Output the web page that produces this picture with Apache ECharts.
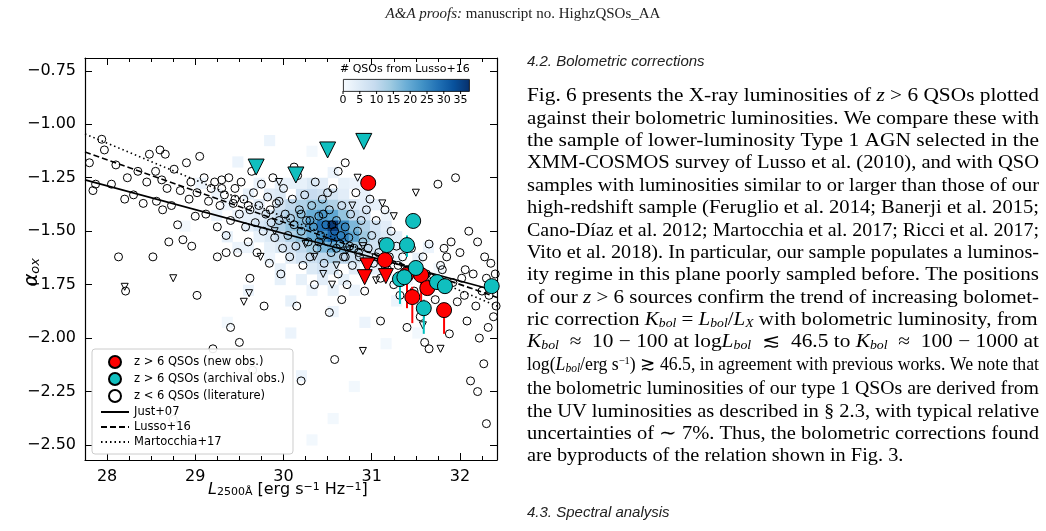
<!DOCTYPE html><html><head><meta charset="utf-8">
<script src="https://cdn.jsdelivr.net/npm/echarts@6/dist/echarts.min.js"></script>
<style>body{margin:0;background:#fff}#c{width:1046px;height:531px}</style></head><body><div id="c"></div>
<script>
const xTicks=[28,29,30,31,32];
const yTicks=[-0.75,-1.00,-1.25,-1.50,-1.75,-2.00,-2.25,-2.50];
const colorbarTicks=[0,5,10,15,20,25,30,35];
const heatCells=[
[29.9,-1.40,7],[30.02,-1.40,10],[30.14,-1.40,12],[30.26,-1.40,14],[30.38,-1.40,15],[30.5,-1.40,12],[30.62,-1.40,8],[30.74,-1.40,5],
[29.66,-1.45,4],[29.78,-1.45,6],[29.9,-1.45,10],[30.02,-1.45,12],[30.14,-1.45,15],[30.26,-1.45,19],[30.38,-1.45,22],[30.5,-1.45,20],[30.62,-1.45,15],[30.74,-1.45,10],[30.86,-1.45,7],
[29.54,-1.50,3],[29.66,-1.50,6],[29.78,-1.50,8],[29.9,-1.50,12],[30.02,-1.50,15],[30.14,-1.50,17],[30.26,-1.50,22],[30.38,-1.50,28],[30.5,-1.50,36],[30.62,-1.50,25],[30.74,-1.50,17],[30.86,-1.50,12],[30.98,-1.50,7],[31.1,-1.50,4],
[29.78,-1.55,5],[29.9,-1.55,8],[30.02,-1.55,12],[30.14,-1.55,15],[30.26,-1.55,19],[30.38,-1.55,24],[30.5,-1.55,30],[30.62,-1.55,26],[30.74,-1.55,20],[30.86,-1.55,14],[30.98,-1.55,8],[31.1,-1.55,5],
[29.9,-1.60,5],[30.02,-1.60,7],[30.14,-1.60,10],[30.26,-1.60,13],[30.38,-1.60,17],[30.5,-1.60,19],[30.62,-1.60,17],[30.74,-1.60,13],[30.86,-1.60,10],[30.98,-1.60,7],[31.1,-1.60,4],
[30.02,-1.65,4],[30.14,-1.65,7],[30.26,-1.65,8],[30.38,-1.65,10],[30.5,-1.65,12],[30.62,-1.65,10],[30.74,-1.65,8],[30.86,-1.65,6],
[29.78,-1.35,4],[29.9,-1.35,5],[30.14,-1.35,7],[30.26,-1.35,9],[30.38,-1.35,8],[30.5,-1.35,6],[30.62,-1.35,4],
[29.9,-1.30,3],[30.26,-1.30,5],[30.38,-1.30,4],[30.5,-1.25,2],
[30.26,-1.70,5],[30.38,-1.70,7],[30.5,-1.70,5],[30.74,-1.70,4],[30.38,-1.75,4],[30.62,-1.75,3],[31.22,-1.75,2],
[29.3,-1.55,3],[29.42,-1.60,2],[29.18,-1.45,2],[31.22,-1.55,4],[31.34,-1.60,3],[31.46,-1.65,3],[31.58,-1.60,2],[29.54,-1.80,2],
[30.02,-1.85,3],[30.5,-1.90,2],[30.86,-1.95,2],[31.22,-1.85,2],[29.3,-1.95,1],[29.66,-2.10,1],[30.14,-2.20,2],[30.74,-2.25,1],
[31.1,-2.05,1],[29.0,-1.30,2],[29.42,-1.20,2],[29.78,-1.10,2],[30.26,-1.15,1],[29.9,-1.75,3],[30.02,-2.00,2],[31.34,-1.75,2],
[31.7,-1.70,1],[28.82,-1.50,1],[30.5,-2.40,1],[30.26,-2.50,1],[31.46,-2.00,1],[29.54,-1.35,3],[29.66,-1.40,4],[30.98,-1.40,3],[31.1,-1.45,2],[29.42,-1.45,2],
[29.18,-1.35,2],[29.3,-1.40,2],[29.54,-1.45,3],[29.66,-1.55,3],[29.54,-1.60,2],[29.78,-1.60,3],[29.78,-1.65,2],[29.9,-1.70,3],[30.14,-1.75,3],[30.26,-1.80,2],[30.5,-1.80,3],[30.74,-1.80,2],[30.98,-1.65,4],[30.98,-1.70,3],[31.1,-1.65,3],[31.22,-1.60,3],[31.22,-1.65,2],[30.86,-1.40,4],[30.86,-1.35,3],[30.74,-1.30,2],[30.62,-1.30,3],[30.02,-1.30,3],[30.14,-1.30,3],[29.66,-1.30,2]];
const lowzCircles=[
[27.8,-1.18],[27.84,-1.31],[27.87,-1.28],[27.94,-1.07],[27.97,-1.12],[28.05,-1.28],[28.1,-1.19],[28.13,-1.62],[28.2,-1.35],[28.23,-1.25],[28.3,-1.33],[28.41,-1.37],[28.48,-1.14],[28.52,-1.62],[28.55,-1.22],[28.56,-1.36],[28.6,-1.12],[28.62,-1.26],[28.63,-1.40],[28.66,-1.14],[28.68,-1.30],[28.7,-1.55],[28.73,-1.38],[28.76,-1.21],[28.8,-1.47],[28.83,-1.31],[28.86,-1.54],[28.9,-1.18],[28.93,-1.35],[28.96,-1.57],[28.95,-1.27],[29.0,-1.43],[29.02,-1.32],[28.75,-2.38],[29.2,-2.05],[29.02,-1.80],[28.21,-1.78],
[29.05,-1.15],[29.1,-1.25],[29.12,-1.42],[29.15,-1.36],[29.18,-1.30],[29.22,-1.27],[29.25,-1.48],[29.28,-1.38],[29.3,-1.26],[29.33,-1.33],[29.35,-1.52],[29.38,-1.25],[29.4,-1.45],[29.43,-1.37],[29.45,-1.30],[29.48,-1.60],[29.5,-1.42],[29.52,-1.27],[29.55,-1.35],[29.57,-1.48],[29.6,-1.55],[29.62,-1.40],[29.64,-1.22],[29.66,-1.32],[29.68,-1.46],[29.7,-1.60],[29.72,-1.38],[29.75,-1.28],[29.77,-1.50],[29.8,-1.42],[29.82,-1.34],[29.84,-1.65],[29.86,-1.46],[29.88,-1.25],[29.9,-1.53],[29.92,-1.37],[29.95,-1.45],[29.97,-1.70],[29.99,-1.58],[29.62,-1.72],[29.78,-1.85],[29.5,-2.02],[29.4,-1.95],[29.65,-2.15],
[30.0,-1.30],[30.02,-1.42],[30.05,-1.52],[30.07,-1.62],[30.1,-1.35],[30.12,-1.47],[30.14,-1.57],[30.16,-1.24],[30.18,-1.40],[30.2,-1.50],[30.22,-1.66],[30.24,-1.33],[30.26,-1.45],[30.28,-1.55],[30.3,-1.62],[30.32,-1.38],[30.34,-1.48],[30.36,-1.27],[30.38,-1.58],[30.4,-1.43],[30.42,-1.52],[30.44,-1.35],[30.46,-1.65],[30.48,-1.47],[30.5,-1.55],[30.52,-1.40],[30.54,-1.60],[30.56,-1.30],[30.58,-1.50],[30.6,-1.45],[30.62,-1.70],[30.64,-1.56],[30.66,-1.38],[30.68,-1.62],[30.7,-1.48],[30.72,-1.75],[30.74,-1.53],[30.76,-1.42],[30.78,-1.66],[30.8,-1.58],[30.82,-1.32],[30.84,-1.50],[30.86,-1.62],[30.88,-1.45],[30.9,-1.55],[30.92,-1.78],[30.94,-1.40],[30.96,-1.58],[30.98,-1.35],[30.66,-1.82],[30.52,-1.88],[30.35,-1.75],[30.15,-1.85],[30.58,-2.10],[30.7,-1.18],[30.62,-1.22],[30.5,-1.32],[30.12,-1.20],[30.2,-2.20],
[31.0,-1.52],[31.02,-1.65],[31.05,-1.45],[31.08,-1.60],[31.1,-1.72],[31.12,-1.55],[31.15,-1.40],[31.18,-1.68],[31.2,-1.62],[31.22,-1.50],[31.25,-1.75],[31.28,-1.57],[31.3,-1.66],[31.32,-1.80],[31.35,-1.62],[31.38,-1.72],[31.4,-1.68],[31.45,-1.58],[31.48,-1.78],[31.52,-1.66],[31.55,-1.90],[31.58,-1.62],[31.62,-1.70],[31.65,-1.56],[31.68,-1.72],[31.72,-1.82],[31.75,-1.28],[31.78,-1.66],[31.8,-1.68],[31.82,-1.58],[31.85,-1.62],[31.88,-1.98],[31.9,-1.55],[31.92,-1.74],[31.95,-1.25],[31.97,-1.83],[32.0,-1.60],[32.02,-1.72],[32.05,-1.80],[32.06,-1.68],[32.08,-1.92],[32.1,-1.50],[32.12,-2.20],[32.15,-1.70],[32.18,-1.85],[32.2,-1.55],[32.22,-2.00],[32.25,-1.78],[32.27,-2.12],[32.28,-1.62],[32.3,-1.72],[32.32,-1.95],[32.33,-1.80],[32.35,-1.65],[32.38,-1.90],[32.4,-1.70],[32.41,-1.85],[32.3,-2.40],[32.2,-2.25],[31.6,-2.02],[31.1,-1.92],[31.4,-1.95],[31.65,-2.05],
[30.45,-1.42],[30.55,-1.47],[30.65,-1.52],[30.75,-1.57],[30.85,-1.60],[30.4,-1.55],[30.3,-1.45],[30.2,-1.42],[30.6,-1.58],[30.7,-1.62],[31.05,-1.62],[31.15,-1.66],[29.3,-1.30],[29.45,-1.35],[29.6,-1.38],[29.85,-1.40],[29.95,-1.36],[30.08,-1.44],[29.35,-1.60],[29.25,-1.62],[28.45,-1.27],[28.35,-1.22]];
const lowzLimits=[[28.2,-1.76],[28.75,-1.72],[29.61,-1.79],[29.74,-1.62],[30.35,-1.62],[30.45,-1.70],[30.6,-1.66],[30.72,-1.59],[30.78,-1.38],[30.84,-1.25],[30.9,-1.57],[31.05,-1.73],[31.12,-1.37],[31.5,-1.32],[31.58,-1.94],[31.78,-2.05],[30.9,-2.06],[29.55,-1.83],[30.25,-1.56],[30.55,-1.75],[29.9,-1.50],[31.25,-1.43],[29.95,-1.27]];
const newObs=[[30.96,-1.274],[31.15,-1.635],[31.39,-1.705],[31.56,-1.705],[31.63,-1.766],[31.46,-1.808],[31.82,-1.869]];
const newObsLimits=[[30.95,-1.66],[30.92,-1.715],[31.16,-1.71]];
const archObs=[[31.47,-1.452],[31.17,-1.565],[31.40,-1.565],[31.50,-1.672],[31.32,-1.724],[31.37,-1.715],[31.74,-1.738],[31.83,-1.757],[31.59,-1.86],[32.36,-1.757]];
const archLimits=[[29.69,-1.20],[30.14,-1.237],[30.50,-1.12],[30.91,-1.08]];
const redBars=[[31.46,-1.76,-1.93],[31.40,-1.68,-1.86],[31.56,-1.68,-1.88],[31.82,-1.84,-1.98]];
const cyanBars=[[31.59,-1.82,-1.98],[31.40,-1.52,-1.62],[31.32,-1.70,-1.84],[31.47,-1.43,-1.48]];
const fitJust=[[27.75,-1.26],[32.42,-1.78]];
const fitLusso=[[27.75,-1.13],[32.42,-1.81]];
const fitMart=[[27.75,-1.045],[32.42,-1.85]];

const blues=[[0,[247,251,255]],[0.125,[222,235,247]],[0.25,[198,219,239]],[0.375,[158,202,225]],[0.5,[107,174,214]],[0.625,[66,146,198]],[0.75,[33,113,181]],[0.875,[8,81,156]],[1,[8,48,107]]];
function cmap(t){t=Math.max(0,Math.min(1,t));for(let i=1;i<blues.length;i++){if(t<=blues[i][0]){const a=blues[i-1],b=blues[i],f=(t-a[0])/(b[0]-a[0]);return 'rgb('+a[1].map((v,k)=>Math.round(v+(b[1][k]-v)*f)).join(',')+')';}}}
const minus=v=>(v<0?'\u2212':'')+Math.abs(v).toFixed(2);
const ch=echarts.init(document.getElementById('c'));
const axBase={axisLine:{lineStyle:{color:'#000',width:1.2}},splitLine:{show:false}};
function bars(data,color){return {type:'custom',data:data,z:3,silent:true,renderItem:(p,api)=>{const a=api.coord([api.value(0),api.value(1)]),b=api.coord([api.value(0),api.value(2)]);return {type:'line',shape:{x1:a[0],y1:a[1],x2:b[0],y2:b[1]},style:{stroke:color,lineWidth:2}};}};}
const gradStops=blues.map(s=>({offset:s[0],color:'rgb('+s[1].join(',')+')'}));
const cbX=343,cbW=126,cbMax=37.5;
const textLines=[
[98,'Fig. 6 presents the X-ray luminosities of {i|z} > 6 QSOs plotted'],
[121,'against their bolometric luminosities. We compare these with'],
[143,'the sample of lower-luminosity Type 1 AGN selected in the'],
[165,'XMM-COSMOS survey of Lusso et al. (2010), and with QSO'],
[188,'samples with luminosities similar to or larger than those of our'],
[210,'high-redshift sample (Feruglio et al. 2014; Banerji et al. 2015;'],
[233,'Cano-Díaz et al. 2012; Martocchia et al. 2017; Ricci et al. 2017;'],
[255,'Vito et al. 2018). In particular, our sample populates a luminos-'],
[277,'ity regime in this plane poorly sampled before. The positions'],
[300,'of our {i|z} > 6 sources confirm the trend of increasing bolomet-'],
[322,'ric correction {i|K}{s|bol} = {i|L}{s|bol}/{i|L}{s|X} with bolometric luminosity, from'],
[344,'{i|K}{s|bol}  ≈  10 − 100 at log{i|L}{s|bol}  ≲  46.5 to {i|K}{s|bol}  ≈  100 − 1000 at'],
[367,'log({i|L}{s|bol}/erg s{p|−1}) ≳ 46.5, in agreement with previous works. We note that'],
[391,'the bolometric luminosities of our type 1 QSOs are derived from'],
[414,'the UV luminosities as described in § 2.3, with typical relative'],
[436,'uncertainties of ∼ 7%. Thus, the bolometric corrections found'],
[458,'are byproducts of the relation shown in Fig. 3.']];
const FS=18.5;
const rich={i:{fontStyle:'italic',fontFamily:'Liberation Serif',fontSize:FS},s:{fontStyle:'italic',fontFamily:'Liberation Serif',fontSize:12,verticalAlign:'bottom'},p:{fontSize:11,fontFamily:'Liberation Serif',verticalAlign:'top'}};
const mctx=document.createElement('canvas').getContext('2d');
function plainWidth(t){let w=0;t.replace(/\{(\w)\|([^}]*)\}|([^{]+)/g,(m,k,inner,plain)=>{if(plain){mctx.font=FS+'px "Liberation Serif"';w+=mctx.measureText(plain).width;}else{mctx.font=(k==='i'?'italic ':'')+(k==='i'?FS:(k==='s'?12:11))+'px "Liberation Serif"';w+=mctx.measureText(inner).width;}return m;});return w;}
const graphics=textLines.map((l,idx)=>{const w=plainWidth(l[1]);const sx=idx<textLines.length-1?Math.min(1.2,512/w):1.1;return {type:'text',x:527,y:l[0]-11,scaleX:sx,style:{text:l[1],rich:rich,font:FS+'px "Liberation Serif"',fill:'#000'}};});
graphics.push({type:'text',left:527,top:54,style:{text:'4.2. Bolometric corrections',font:'italic 15px "Liberation Sans"',fill:'#222'}});
graphics.push({type:'text',left:527,top:505,style:{text:'4.3. Spectral analysis',font:'italic 15px "Liberation Sans"',fill:'#222'}});
graphics.push({type:'text',left:'center',top:7,style:{text:'{i|A&A proofs:} manuscript no. HighzQSOs_AA',rich:{i:{fontStyle:'italic',fontFamily:'Liberation Serif',fontSize:15}},font:'15px "Liberation Serif"',fill:'#222'}});
graphics.push({type:'rect',left:cbX,top:79,shape:{width:cbW,height:12},style:{fill:new echarts.graphic.LinearGradient(0,0,1,0,gradStops),stroke:'#000',lineWidth:0.8},z:10});
graphics.push({type:'text',left:cbX-3,top:64,style:{text:'# QSOs from Lusso+16',font:'11px "DejaVu Sans"',fill:'#000'},z:10});
colorbarTicks.forEach(t=>{const x=cbX+t/cbMax*cbW;graphics.push({type:'line',shape:{x1:x,y1:91,x2:x,y2:94},style:{stroke:'#000'},z:10});graphics.push({type:'text',x:x,y:95,style:{text:String(t),font:'11px "DejaVu Sans"',fill:'#000',align:'center'},z:10});});
graphics.push({type:'text',left:22,top:258,rotation:Math.PI/2,style:{text:'α{s|ox}',rich:{s:{fontSize:13,fontStyle:'italic',verticalAlign:'bottom',fontFamily:'DejaVu Sans'}},font:'italic 20px "DejaVu Sans"',fill:'#000'}});
graphics.push({type:'text',left:208,top:482,style:{text:'{i|L}{s|2500Å} [erg s{p|−1} Hz{p|−1}]',rich:{i:{fontStyle:'italic',fontSize:16,fontFamily:'DejaVu Sans'},s:{fontSize:11,fontFamily:'DejaVu Sans',verticalAlign:'bottom'},p:{fontSize:11,fontFamily:'DejaVu Sans',verticalAlign:'top'}},font:'16px "DejaVu Sans"',fill:'#000'}});
const bigSym={borderColor:'#000',borderWidth:1,opacity:1};
const hollow={color:'rgba(255,255,255,0)',borderColor:'#000',borderWidth:1,opacity:1};
const lineLeg=n=>({name:n,itemStyle:{opacity:0}});
ch.setOption({
 animation:false,
 graphic:graphics,
 legend:{orient:'vertical',left:92,top:349,itemGap:3,itemWidth:28,itemHeight:12,padding:[6,8],backgroundColor:'rgba(255,255,255,0.9)',borderColor:'#ccc',borderWidth:1,borderRadius:3,textStyle:{fontFamily:'DejaVu Sans',fontSize:11.5,color:'#000'},
  data:['z > 6 QSOs (new obs.)','z > 6 QSOs (archival obs.)','z < 6 QSOs (literature)',lineLeg('Just+07'),lineLeg('Lusso+16'),lineLeg('Martocchia+17')],z:20},
 grid:{left:85,top:58,right:549,bottom:71},
 xAxis:[{type:'value',min:27.75,max:32.42,...axBase,axisTick:{inside:true,length:7,customValues:xTicks,lineStyle:{color:'#000'}},minorTick:{show:true,splitNumber:4,length:4,lineStyle:{color:'#000'}},axisLabel:{customValues:xTicks,fontSize:16,fontFamily:'DejaVu Sans',color:'#000',margin:9,formatter:v=>String(v)}},
  {type:'value',position:'top',min:27.75,max:32.42,...axBase,axisTick:{inside:true,length:7,customValues:xTicks,lineStyle:{color:'#000'}},minorTick:{show:true,splitNumber:4,length:4,lineStyle:{color:'#000'}},axisLabel:{show:false}}],
 yAxis:[{type:'value',min:-2.57,max:-0.69,...axBase,axisTick:{inside:true,length:7,customValues:yTicks,lineStyle:{color:'#000'}},axisLabel:{customValues:yTicks,fontSize:16,fontFamily:'DejaVu Sans',color:'#000',margin:9,formatter:minus}},
  {type:'value',position:'right',min:-2.57,max:-0.69,...axBase,axisTick:{inside:true,length:7,customValues:yTicks,lineStyle:{color:'#000'}},axisLabel:{show:false}}],
 series:[
  {type:'custom',data:heatCells,z:0,silent:true,renderItem:(p,api)=>{const a=api.coord([api.value(0),api.value(1)]),b=api.coord([api.value(0)+0.12,api.value(1)+0.05]);return {type:'rect',shape:{x:a[0],y:b[1],width:b[0]-a[0]+0.5,height:a[1]-b[1]+0.5},style:{fill:cmap(api.value(2)/cbMax)}};}},
  {name:'Just+07',type:'line',data:fitJust,symbol:'none',z:4,itemStyle:{color:'#000'},lineStyle:{color:'#000',width:1.6}},
  {name:'Lusso+16',type:'line',data:fitLusso,symbol:'none',z:4,itemStyle:{color:'#000'},lineStyle:{color:'#000',width:1.6,type:[6,3]}},
  {name:'Martocchia+17',type:'line',data:fitMart,symbol:'none',z:4,itemStyle:{color:'#000'},lineStyle:{color:'#000',width:1.6,type:[1.5,3]}},
  {name:'z < 6 QSOs (literature)',type:'scatter',data:lowzCircles,symbol:'circle',symbolSize:8,z:2,itemStyle:hollow},
  {type:'scatter',data:lowzLimits,symbol:'triangle',symbolRotate:180,symbolSize:7,z:2,itemStyle:hollow},
  bars(redBars,'#ff0000'),bars(cyanBars,'#00c0c0'),
  {name:'z > 6 QSOs (new obs.)',type:'scatter',data:newObs,symbol:'circle',symbolSize:15,z:5,itemStyle:{color:'#ff0000',...bigSym}},
  {type:'scatter',data:newObsLimits,symbol:'triangle',symbolRotate:180,symbolSize:15,z:5,itemStyle:{color:'#ff0000',...bigSym}},
  {name:'z > 6 QSOs (archival obs.)',type:'scatter',data:archObs,symbol:'circle',symbolSize:15,z:5,itemStyle:{color:'#10bfbf',...bigSym}},
  {type:'scatter',data:archLimits,symbol:'triangle',symbolRotate:180,symbolSize:16,z:5,itemStyle:{color:'#10bfbf',...bigSym}}
 ]});
</script></body></html>
